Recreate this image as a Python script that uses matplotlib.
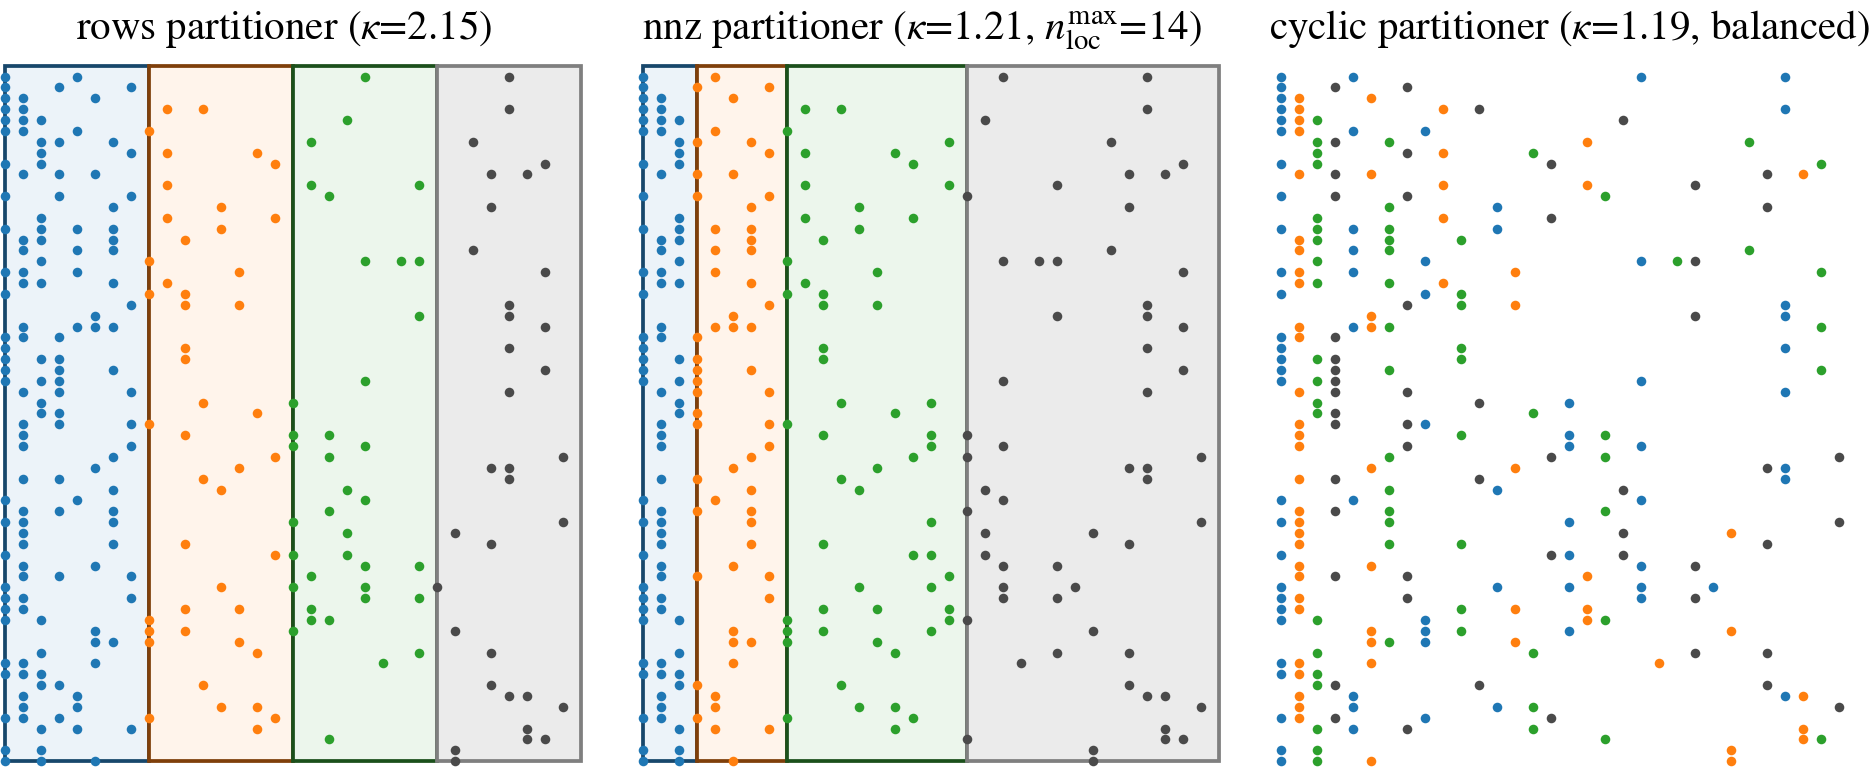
import matplotlib
matplotlib.use("Agg")
import matplotlib.pyplot as plt
from matplotlib.patches import Rectangle
import numpy as np

plt.rcParams['font.family'] = ['STIXGeneral', 'DejaVu Serif']
plt.rcParams['mathtext.fontset'] = 'stix'

# ---- data: nonzero pattern (x = row index 0..31, y = position 1..64) ----
n_x = 32
n_y = 64
row_cols = {
    1: [0, 4, 20, 28], 2: [0, 3, 7], 3: [0, 1, 5], 4: [0, 1, 9, 11, 28],
    5: [0, 1, 2, 19], 6: [0, 1, 4, 8], 7: [2, 3, 6, 17, 26], 8: [2, 7, 9, 14],
    9: [0, 2, 15, 30], 10: [1, 3, 5, 27, 29], 11: [9, 17, 23], 12: [0, 3, 7, 18],
    13: [6, 12, 27], 14: [2, 9, 15], 15: [0, 2, 4, 6, 12], 16: [1, 2, 6, 10],
    17: [1, 4, 6, 26], 18: [2, 8, 20, 22, 23], 19: [0, 1, 4, 13, 30], 20: [1, 2, 6, 9],
    21: [0, 8, 10], 22: [7, 10, 13, 28], 23: [5, 23, 28], 24: [1, 4, 5, 6, 30],
    25: [0, 1, 3], 26: [0, 10, 28], 27: [0, 2, 3, 10], 28: [0, 3, 6, 30],
    29: [0, 2, 3, 20], 30: [1, 3, 7, 28], 31: [2, 11, 16], 32: [2, 3, 14],
    33: [1, 3, 7, 8], 34: [1, 10, 16, 18], 35: [1, 7, 16, 20], 36: [6, 15, 18, 31],
    37: [5, 13, 27, 28], 38: [1, 3, 11, 28], 39: [6, 12, 19], 40: [0, 4, 20],
    41: [1, 3, 6, 18], 42: [0, 1, 6, 16, 31], 43: [1, 19, 25], 44: [1, 6, 10, 27],
    45: [0, 15, 16, 19], 46: [1, 5, 20, 23], 47: [1, 3, 7, 17], 48: [0, 12, 16, 20, 24],
    49: [0, 1, 7, 20, 23], 50: [0, 1, 10, 13, 17], 51: [0, 2, 8, 17, 18], 52: [5, 8, 10, 16, 25],
    53: [5, 6, 8, 13], 54: [2, 14, 23, 27], 55: [0, 1, 5, 21], 56: [0, 1, 2],
    57: [2, 3, 11, 27], 58: [1, 4, 28, 29], 59: [1, 4, 12, 14, 31], 60: [0, 1, 3, 8, 15],
    61: [2, 4, 7, 14, 29], 62: [18, 29, 30], 63: [0, 2, 25], 64: [0, 2, 5, 25],
}

rows_bounds = [0, 8, 16, 24, 32]
nnz_bounds = [0, 3, 8, 18, 32]
n_parts = 4

titles = [
    r"rows partitioner ($\kappa$=2.15)",
    r"nnz partitioner ($\kappa$=1.21, $n_{\mathrm{loc}}^{\mathrm{max}}$=14)",
    r"cyclic partitioner ($\kappa$=1.19, balanced)",
]
title_x = [0.485, 0.485, 0.5]

part_colors = ['#1f77b4', '#ff7f0e', '#2ca02c', '#4a4a4a']
edge_colors = ['#17476b', '#7f3f0a', '#1b501b', '#7f7f7f']
face_colors = ['#ecf3f9', '#fff4eb', '#ecf6ec', '#ebebeb']

xs = np.array([c for r, cs in row_cols.items() for c in cs])
ys = np.array([r for r, cs in row_cols.items() for c in cs])


def part_of_block(x, bounds):
    return np.searchsorted(bounds, x, side='right') - 1


fig = plt.figure(figsize=(18.73, 7.67), dpi=100)
W, H = 1873.0, 767.0
lefts = [4.7, 642.7, 1281.0]
pw = 576.0
top_px, bot_px = 65.7, 761.2

for k in range(3):
    ax = fig.add_axes([lefts[k] / W, (H - bot_px) / H, pw / W, (bot_px - top_px) / H])
    ax.set_xlim(0, n_x)
    ax.set_ylim(n_y, 0)
    ax.axis('off')
    if k < 2:
        bounds = rows_bounds if k == 0 else nnz_bounds
        for p in range(n_parts):
            ax.add_patch(Rectangle((bounds[p], 0), bounds[p + 1] - bounds[p], n_y,
                                   facecolor=face_colors[p], edgecolor=edge_colors[p],
                                   linewidth=2.7, zorder=1 + 0.1 * p, clip_on=False))
        parts = part_of_block(xs, bounds)
    else:
        parts = xs % n_parts
    for p in range(n_parts):
        m = parts == p
        ax.plot(xs[m], ys[m], linestyle='none', marker='o', markersize=6.9,
                markeredgewidth=0, color=part_colors[p], zorder=5, clip_on=False)
    ax.set_title(titles[k], fontsize=29.5, pad=19, x=title_x[k])

fig.savefig("out.png", dpi=100)
